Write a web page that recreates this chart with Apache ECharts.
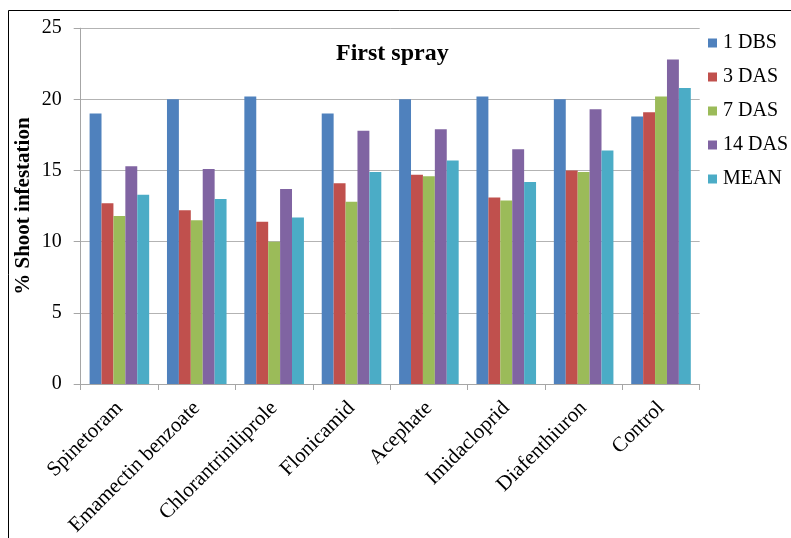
<!DOCTYPE html>
<html>
<head>
<meta charset="utf-8">
<script src="https://cdn.jsdelivr.net/npm/echarts@6/dist/echarts.min.js"></script>
<style>
html,body{margin:0;padding:0;background:#fff;}
#c{width:791px;height:538px;}
</style>
</head>
<body>
<div id="c"></div>
<script>
const categories = ['Spinetoram','Emamectin benzoate','Chlorantriniliprole','Flonicamid','Acephate','Imidacloprid','Diafenthiuron','Control'];
const seriesNames = ['1 DBS','3 DAS','7 DAS','14 DAS','MEAN'];
const dbs1  = [19.0, 20.0, 20.2, 19.0, 20.0, 20.2, 20.0, 18.8];
const das3  = [12.7, 12.2, 11.4, 14.1, 14.7, 13.1, 15.0, 19.1];
const das7  = [11.8, 11.5, 10.0, 12.8, 14.6, 12.9, 14.9, 20.2];
const das14 = [15.3, 15.1, 13.7, 17.8, 17.9, 16.5, 19.3, 22.8];
const mean  = [13.3, 13.0, 11.7, 14.9, 15.7, 14.2, 16.4, 20.8];
const yTicks = [0, 5, 10, 15, 20, 25];
const colors = ['#4F81BD','#C0504D','#9BBB59','#8064A2','#4BACC6'];
const values = [dbs1, das3, das7, das14, mean];

const font = 'Liberation Serif';
const chart = echarts.init(document.getElementById('c'), null, {renderer:'canvas'});

const legendItems = [];
seriesNames.forEach((n, i) => {
  const cy = 43 + i * 34;
  legendItems.push({type: 'rect', silent: true, shape: {x: 708, y: cy - 4.5, width: 9, height: 9}, style: {fill: colors[i]}});
  legendItems.push({type: 'text', silent: true, x: 723, y: cy, style: {text: n, font: '20px "Liberation Serif"', fill: '#000', verticalAlign: 'middle', align: 'left'}});
});

chart.setOption({
  animation: false,
  backgroundColor: '#fff',
  title: {
    text: 'First spray',
    left: 331, top: 37,
    textStyle: {fontFamily: font, fontSize: 24, fontWeight: 'bold', color: '#000'}
  },
  grid: {left: 80.7, right: 91.3, top: 28.2, bottom: 154, containLabel: false, outerBoundsMode: 'none'},
  xAxis: {
    type: 'category',
    data: categories,
    axisLine: {lineStyle: {color: '#a6a6a6'}},
    axisTick: {show: true, length: 6, lineStyle: {color: '#a6a6a6'}},
    axisLabel: {rotate: 45, interval: 0, margin: 21, fontFamily: font, fontSize: 21, color: '#000'}
  },
  yAxis: {
    type: 'value',
    min: yTicks[0], max: yTicks[yTicks.length-1], interval: 5,
    name: '% Shoot infestation',
    nameLocation: 'middle',
    nameGap: 47,
    nameMoveOverlap: false,
    nameTextStyle: {fontFamily: font, fontSize: 21, fontWeight: 'bold', color: '#000'},
    axisLine: {show: true, lineStyle: {color: '#a6a6a6'}},
    axisTick: {show: true, length: 7, lineStyle: {color: '#a6a6a6'}},
    axisLabel: {margin: 19, fontFamily: font, fontSize: 20, color: '#000'},
    splitLine: {lineStyle: {color: '#b3b3b3'}}
  },
  series: seriesNames.map((n, i) => ({
    name: n,
    type: 'bar',
    data: values[i],
    barGap: 0,
    barCategoryGap: '23%',
    itemStyle: {color: colors[i]}
  })),
  graphic: [
    {type: 'polyline', shape: {points: [[8.5, 538], [8.5, 10.5], [791, 10.5]]}, style: {stroke: '#000', lineWidth: 1, fill: null}, silent: true}
  ].concat(legendItems)
});
</script>
</body>
</html>
